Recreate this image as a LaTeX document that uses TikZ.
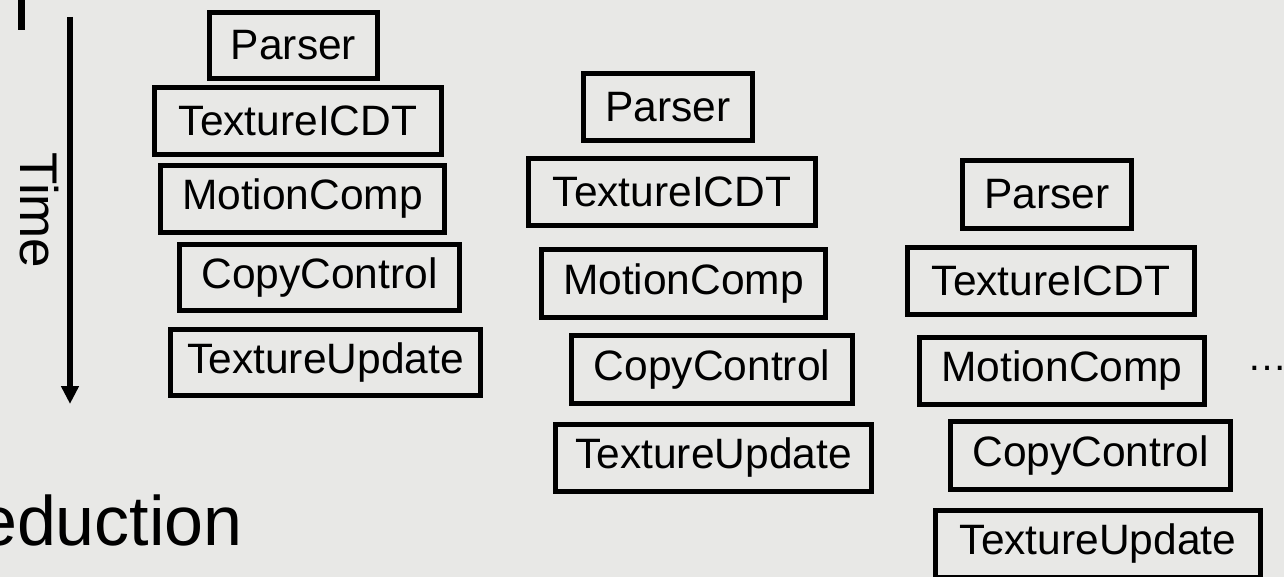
\documentclass[tikz,border=0pt]{standalone}
\usepackage{fontspec}
\setmainfont{Liberation Sans}
\usetikzlibrary{arrows.meta}
\definecolor{bgc}{RGB}{232,232,230}
\tikzset{
  stagebox/.style args={#1/#2}{draw=black, line width=5pt, inner sep=0pt,
    minimum width=#1pt-5pt, minimum height=#2pt-5pt,
    font=\fontsize{42.5}{50}\selectfont, text=black},
}
\begin{document}
\begin{tikzpicture}[x=1pt,y=-1pt]
\fill[bgc] (0,0) rectangle (1284,577);
\useasboundingbox (0,0) rectangle (1284,577);
\begin{scope}
\clip (0,0) rectangle (1284,577);
% top-left fragment
\fill[black] (18,0) rectangle (25,30);
% column 1
\node[stagebox=173/71] (p1) at (293.5,45.5) {Parser};
\node[stagebox=292/72] (t1) at (298,121) {TextureICDT};
\node[stagebox=289/72] (m1) at (302.5,199) {MotionComp};
\node[stagebox=285/71] (c1) at (319.5,277.5) {CopyControl};
\node[stagebox=315/71] (u1) at (325.5,362.5) {TextureUpdate};
% column 2
\node[stagebox=174/72] (p2) at (668,107) {Parser};
\node[stagebox=292/72] (t2) at (672,192) {TextureICDT};
\node[stagebox=289/73] (m2) at (683.5,283.5) {MotionComp};
\node[stagebox=286/73] (c2) at (712,369.5) {CopyControl};
\node[stagebox=321/72] (u2) at (713.5,458) {TextureUpdate};
% column 3
\node[stagebox=174/73] (p3) at (1047,194.5) {Parser};
\node[stagebox=292/72] (t3) at (1051,281) {TextureICDT};
\node[stagebox=290/72] (m3) at (1062,371) {MotionComp};
\node[stagebox=285/73] (c3) at (1090.5,455.5) {CopyControl};
\node[stagebox=330/72] (u3) at (1098,544) {TextureUpdate};
% dots
\node[anchor=base west, inner sep=0pt, font=\fontsize{40}{48}\selectfont] (dots) at (1247,370) {…};
% time arrow
\coordinate (ts) at (70,17);
\coordinate (te) at (70,404);
\draw[line width=5.5pt, -{Triangle[width=17pt,length=18pt]}] (ts) -- (te);
\node[rotate=-90, inner sep=0pt, font=\fontsize{53}{60}\selectfont] (time) at (39,210.5) {Time};
% bottom-left text
\node[anchor=base east, inner sep=0pt, font=\fontsize{70}{84}\selectfont] (red) at (243,545) {eduction};
\end{scope}
\end{tikzpicture}
\end{document}
